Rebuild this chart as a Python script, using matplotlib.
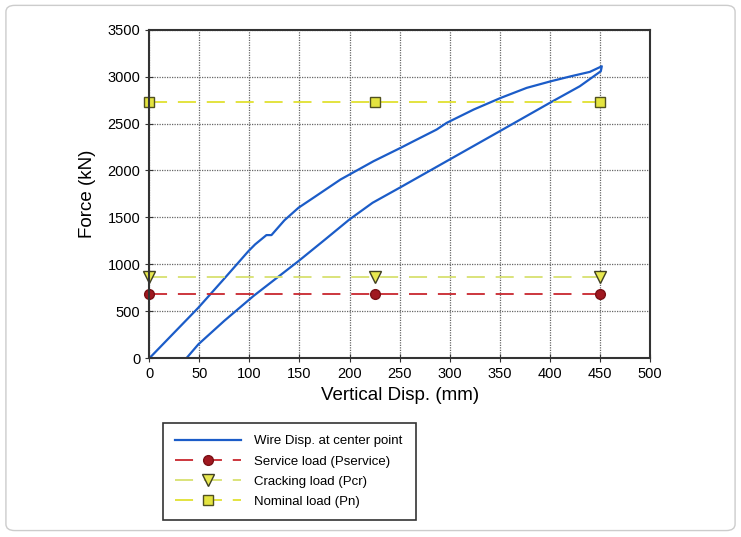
import matplotlib.pyplot as plt
from matplotlib.patches import FancyBboxPatch

plt.rcParams['font.family'] = ['Liberation Sans', 'DejaVu Sans']

# loading branch
loadDisp = [0, 25, 49, 75, 99, 105.7, 117, 122, 135, 149, 164, 191, 224, 251, 264, 287, 297, 324, 351, 377, 401, 421, 440, 452]
loadForce = [0, 275, 539, 850, 1141, 1213, 1312, 1312, 1470, 1603, 1710, 1904, 2099, 2241, 2312, 2436, 2507, 2649, 2773, 2880, 2950, 3003, 3050, 3110]
# unloading branch
unloadDisp = [452, 451, 430, 400, 350, 300, 250, 223, 200, 175, 149, 104, 75, 49, 37]
unloadForce = [3110, 3057, 2897, 2720, 2418, 2117, 1816, 1656, 1479, 1260, 1035, 663, 400, 149, 0]

loadPoints = [0, 225, 450]
serviceLoad = [680, 680, 680]
crackingLoad = [865, 865, 865]
nominalLoad = [2728, 2728, 2728]

fig = plt.figure(figsize=(7.41, 5.37), dpi=100)
ax = fig.add_axes([0.2015, 0.3328, 0.6755, 0.612])

wireDisp = loadDisp + unloadDisp
wireForce = loadForce + unloadForce
ax.plot(wireDisp, wireForce, color="#1b5cc8", linewidth=1.6, label="Wire Disp. at center point")
ax.plot(loadPoints, serviceLoad, color="#c8262e", linestyle=(0, (10, 6)), linewidth=1.3,
        marker="o", markersize=7, markerfacecolor="#a01820", markeredgecolor="#7a1015",
        label="Service load (Pservice)", clip_on=False)
ax.plot(loadPoints, crackingLoad, color="#d8e070", linestyle=(0, (10, 6)), linewidth=1.3,
        marker="v", markersize=9, markerfacecolor="#e8e850", markeredgecolor="#404020",
        label="Cracking load (Pcr)", clip_on=False)
ax.plot(loadPoints, nominalLoad, color="#e0e030", linestyle=(0, (10, 6)), linewidth=1.3,
        marker="s", markersize=7, markerfacecolor="#e4e440", markeredgecolor="#505020",
        label="Nominal load (Pn)", clip_on=False)

ax.set_xlim(0, 500)
ax.set_ylim(0, 3500)
ax.set_xticks(range(0, 501, 50))
ax.set_yticks(range(0, 3501, 500))
ax.grid(True, color="#666666", linestyle=(0, (1, 1)), linewidth=0.9)
ax.tick_params(direction="inout", length=6, labelsize=10.5, color="#333333")
for s in ax.spines.values():
    s.set_linewidth(1.5)
    s.set_color("#333333")
ax.set_xlabel("Vertical Disp. (mm)", fontsize=13.5, labelpad=4)
ax.set_ylabel("Force (kN)", fontsize=13.5, labelpad=8)

leg = fig.legend(loc="lower left", bbox_to_anchor=(0.22, 0.032, 0.341, 0.186), mode="expand",
                 fontsize=9.5, handlelength=5.0, fancybox=False, framealpha=1,
                 borderaxespad=0, borderpad=0.9, labelspacing=0.6, handletextpad=1.0)
leg.get_frame().set_edgecolor("#333333")
leg.get_frame().set_linewidth(1.2)

border = FancyBboxPatch((0.008, 0.012), 0.984, 0.978, boxstyle="round,pad=0,rounding_size=0.012",
                        transform=fig.transFigure, fill=False, edgecolor="#cccccc", linewidth=1.0)
fig.patches.append(border)

fig.savefig("out.png", dpi=100)
